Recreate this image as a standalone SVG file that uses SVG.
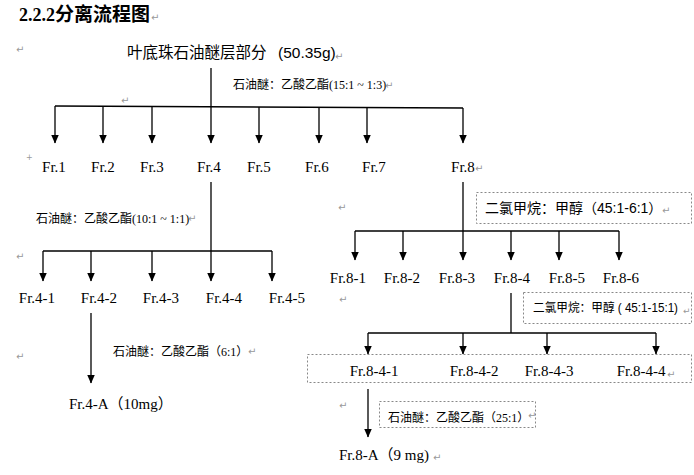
<svg xmlns="http://www.w3.org/2000/svg" width="694" height="475" viewBox="0 0 694 475">
<defs>
<marker id="ah" markerWidth="9" markerHeight="8" refX="8.5" refY="4" orient="auto" markerUnits="userSpaceOnUse">
<path d="M0,0 L9,4 L0,8 z" fill="#000"/>
</marker>
<style>
.ln{stroke:#000;stroke-width:1.3;fill:none}
.ar{stroke:#000;stroke-width:1.3;fill:none;marker-end:url(#ah)}
.fr{font-family:"Liberation Serif","Times New Roman",serif;font-size:15px;fill:#000}
.lb{font-family:"Liberation Serif","Noto Sans CJK SC",serif;font-size:12px;fill:#000}
.cj{font-family:"Noto Sans CJK SC",sans-serif}
.sn{font-family:"Liberation Sans","Noto Sans CJK SC",sans-serif;fill:#000}
.pm{font-family:"DejaVu Sans",sans-serif;font-size:10px;fill:#999}
.bx{fill:none;stroke:#888;stroke-width:1;stroke-dasharray:2,2}
</style>
</defs>

<g id="title">
<text x="19" y="21" style="font-family:'Liberation Serif','Noto Sans CJK SC',serif;font-size:18px;font-weight:bold;fill:#000">2.2.2<tspan class="cj" style="font-size:19px">分离流程图</tspan></text>
</g>

<g id="root">
<text x="127" y="58" class="sn" style="font-size:15.5px"><tspan class="cj">叶底珠石油醚层部分</tspan><tspan x="278">(50.35g)</tspan></text>
</g>

<g id="connectors">
<line class="ln" x1="211" y1="68" x2="211" y2="107"/>
<line class="ln" x1="55" y1="106" x2="463" y2="108"/>
<line class="ar" x1="55" y1="106" x2="55" y2="143"/>
<line class="ar" x1="103" y1="106" x2="103" y2="143"/>
<line class="ar" x1="152" y1="106" x2="152" y2="143"/>
<line class="ar" x1="211" y1="107" x2="211" y2="143"/>
<line class="ar" x1="259" y1="107" x2="259" y2="143"/>
<line class="ar" x1="319" y1="107" x2="319" y2="143"/>
<line class="ar" x1="367" y1="108" x2="367" y2="143"/>
<line class="ar" x1="463" y1="108" x2="463" y2="143"/>

<line class="ln" x1="211" y1="182" x2="211" y2="251"/>
<line class="ln" x1="43" y1="251" x2="272" y2="251"/>
<line class="ar" x1="43" y1="251" x2="43" y2="281"/>
<line class="ar" x1="91" y1="251" x2="91" y2="281"/>
<line class="ar" x1="152" y1="251" x2="152" y2="281"/>
<line class="ar" x1="211" y1="251" x2="211" y2="281"/>
<line class="ar" x1="272" y1="251" x2="272" y2="281"/>

<line class="ar" x1="91" y1="313" x2="91" y2="383"/>

<line class="ln" x1="463" y1="182" x2="463" y2="231"/>
<line class="ln" x1="355" y1="231" x2="619" y2="231"/>
<line class="ar" x1="355" y1="231" x2="355" y2="260"/>
<line class="ar" x1="403" y1="231" x2="403" y2="260"/>
<line class="ar" x1="463" y1="231" x2="463" y2="260"/>
<line class="ar" x1="511" y1="231" x2="511" y2="260"/>
<line class="ar" x1="559" y1="231" x2="559" y2="260"/>
<line class="ar" x1="619" y1="231" x2="619" y2="260"/>

<line class="ln" x1="511" y1="293" x2="511" y2="333"/>
<line class="ln" x1="368" y1="333" x2="656" y2="333"/>
<line class="ar" x1="368" y1="333" x2="368" y2="354"/>
<line class="ar" x1="463" y1="333" x2="463" y2="354"/>
<line class="ar" x1="547" y1="333" x2="547" y2="354"/>
<line class="ar" x1="656" y1="333" x2="656" y2="354"/>

<line class="ar" x1="368" y1="389" x2="368" y2="437"/>
</g>

<g id="label-1"><text x="233" y="89" class="lb"><tspan class="cj">石油醚：乙酸乙酯</tspan>(15:1 ~ 1:3)</text></g>
<g id="label-2"><text x="36" y="223" class="lb"><tspan class="cj">石油醚：乙酸乙酯</tspan>(10:1 ~ 1:1)</text></g>
<g id="label-3"><text x="113" y="356" class="lb"><tspan class="cj">石油醚：乙酸乙酯（</tspan>6:1<tspan class="cj">）</tspan></text></g>

<g id="box-1">
<rect class="bx" x="476.5" y="192.5" width="215" height="31"/>
<text x="485" y="213" class="sn" style="font-size:14px">二氯甲烷：甲醇（45:1-6:1）</text>
</g>
<g id="box-2">
<rect class="bx" x="523.5" y="292.5" width="168" height="31"/>
<text x="533" y="312" class="sn" style="font-size:12px" textLength="145" lengthAdjust="spacingAndGlyphs">二氯甲烷：甲醇 ( 45:1-15:1)</text>
</g>
<g id="box-3">
<rect class="bx" x="379.5" y="401.5" width="156" height="26"/>
<text x="388" y="422" class="lb"><tspan class="cj">石油醚：乙酸乙酯（</tspan>25:1<tspan class="cj">）</tspan></text>
</g>
<g id="box-8-4"><rect class="bx" x="307.5" y="354.5" width="384" height="28"/></g>

<g id="fr1"><text class="fr" x="54" y="172" text-anchor="middle">Fr.1</text></g>
<g id="fr2"><text class="fr" x="103" y="172" text-anchor="middle">Fr.2</text></g>
<g id="fr3"><text class="fr" x="152" y="172" text-anchor="middle">Fr.3</text></g>
<g id="fr4"><text class="fr" x="209" y="172" text-anchor="middle">Fr.4</text></g>
<g id="fr5"><text class="fr" x="259" y="172" text-anchor="middle">Fr.5</text></g>
<g id="fr6"><text class="fr" x="317" y="172" text-anchor="middle">Fr.6</text></g>
<g id="fr7"><text class="fr" x="374" y="172" text-anchor="middle">Fr.7</text></g>
<g id="fr8"><text class="fr" x="463" y="172" text-anchor="middle">Fr.8</text></g>

<g id="fr4-1"><text class="fr" x="37" y="303" text-anchor="middle">Fr.4-1</text></g>
<g id="fr4-2"><text class="fr" x="99" y="303" text-anchor="middle">Fr.4-2</text></g>
<g id="fr4-3"><text class="fr" x="161" y="303" text-anchor="middle">Fr.4-3</text></g>
<g id="fr4-4"><text class="fr" x="224" y="303" text-anchor="middle">Fr.4-4</text></g>
<g id="fr4-5"><text class="fr" x="287" y="303" text-anchor="middle">Fr.4-5</text></g>

<g id="fr4-A"><text class="fr" x="69" y="409">Fr.4-A<tspan class="cj">（</tspan>10mg<tspan class="cj">）</tspan></text></g>

<g id="fr8-1"><text class="fr" x="348" y="283" text-anchor="middle">Fr.8-1</text></g>
<g id="fr8-2"><text class="fr" x="402" y="283" text-anchor="middle">Fr.8-2</text></g>
<g id="fr8-3"><text class="fr" x="457" y="283" text-anchor="middle">Fr.8-3</text></g>
<g id="fr8-4"><text class="fr" x="512" y="283" text-anchor="middle">Fr.8-4</text></g>
<g id="fr8-5"><text class="fr" x="567" y="283" text-anchor="middle">Fr.8-5</text></g>
<g id="fr8-6"><text class="fr" x="621" y="283" text-anchor="middle">Fr.8-6</text></g>

<g id="fr8-4-1"><text class="fr" x="374" y="376" text-anchor="middle">Fr.8-4-1</text></g>
<g id="fr8-4-2"><text class="fr" x="474" y="376" text-anchor="middle">Fr.8-4-2</text></g>
<g id="fr8-4-3"><text class="fr" x="549" y="376" text-anchor="middle">Fr.8-4-3</text></g>
<g id="fr8-4-4"><text class="fr" x="641" y="376" text-anchor="middle">Fr.8-4-4</text></g>

<g id="fr8-A"><text class="fr" x="339" y="460">Fr.8-A<tspan class="cj">（</tspan>9 mg)</text></g>

<g id="marks">
<text class="pm" x="151" y="21">↵</text>
<text class="pm" x="16" y="53">↵</text>
<text class="pm" x="335" y="60">↵</text>
<text class="pm" x="385" y="89">↵</text>
<text class="pm" x="121" y="104">↵</text>
<text class="pm" x="26" y="160" style="font-size:8px">+</text>
<text class="pm" x="475" y="172">↵</text>
<text class="pm" x="338" y="211">↵</text>
<text class="pm" x="188" y="222">↵</text>
<text class="pm" x="662" y="214">↵</text>
<text class="pm" x="16" y="260">↵</text>
<text class="pm" x="339" y="303">↵</text>
<text class="pm" x="683" y="314" style="font-size:9px">↵</text>
<text class="pm" x="667" y="378">↵</text>
<text class="pm" x="16" y="360">↵</text>
<text class="pm" x="248" y="355">↵</text>
<text class="pm" x="339" y="409">↵</text>
<text class="pm" x="528" y="419">↵</text>
<text class="pm" x="433" y="461">↵</text>
</g>
</svg>
